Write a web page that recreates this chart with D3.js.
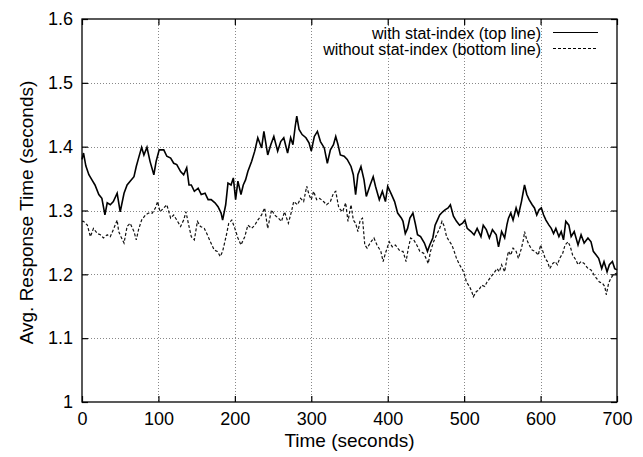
<!DOCTYPE html>
<html>
<head>
<meta charset="utf-8">
<script src="https://cdn.jsdelivr.net/npm/d3@7"></script>
<style>
  html, body { margin: 0; padding: 0; background: #fff; }
  text { font-family: "Liberation Sans", Arial, Helvetica, sans-serif; fill: #000; }
</style>
</head>
<body>
<svg id="chart" width="643" height="457"></svg>
<script>
// ---- data ----
const xTicks = [0, 100, 200, 300, 400, 500, 600, 700];
const yTicks = [1, 1.1, 1.2, 1.3, 1.4, 1.5, 1.6];
const yTickLabels = ["1", "1.1", "1.2", "1.3", "1.4", "1.5", "1.6"];
const seriesNames = ["with stat-index (top line)", "without stat-index (bottom line)"];

const timeTop = [0,2,5,9,13,17,22,26,30,33,37,41,46,50,55,59,63,68,71,74,78,81,85,89,94,97,101,107,111,116,120,124,129,133,137,140,
143,147,152,156,161,165,169,174,178,182,184,188,191,195,198,201,204,208,211,214,217,222,226,230,235,238,243,247,251,256,260,264,269,273,276,279,
281,284,288,293,297,300,304,308,312,317,321,325,329,332,335,338,343,347,352,355,358,361,365,369,372,377,381,384,389,393,397,400,405,409,413,418,
420,423,426,429,433,436,439,443,448,452,455,459,462,465,468,472,475,479,482,486,490,494,498,501,504,509,513,517,522,525,529,533,537,542,545,549,553,
556,558,561,564,568,571,575,577,579,582,585,589,592,595,598,601,604,607,611,614,617,620,624,627,630,633,637,640,644,649,653,657,662,666,669,673,676,680,683,687,690,694,697,700];
const valTop = [1.380,1.390,1.370,1.356,1.348,1.340,1.325,1.319,1.293,1.312,1.309,1.314,1.327,1.298,1.327,1.340,1.346,1.353,1.369,1.382,1.399,1.387,1.399,1.377,1.356,1.377,1.395,1.395,1.385,1.382,1.374,1.372,1.361,1.356,1.367,1.340,
1.340,1.330,1.335,1.325,1.327,1.317,1.317,1.312,1.306,1.296,1.285,1.309,1.343,1.340,1.351,1.317,1.346,1.325,1.340,1.348,1.361,1.377,1.393,1.414,1.398,1.424,1.387,1.403,1.416,1.393,1.408,1.414,1.390,1.414,1.403,1.432,
1.448,1.427,1.419,1.414,1.406,1.393,1.416,1.424,1.408,1.398,1.374,1.395,1.403,1.416,1.403,1.387,1.385,1.380,1.369,1.356,1.325,1.356,1.369,1.348,1.322,1.340,1.353,1.338,1.317,1.330,1.314,1.338,1.325,1.314,1.296,1.288,
1.283,1.264,1.272,1.288,1.296,1.280,1.262,1.259,1.249,1.236,1.246,1.257,1.277,1.285,1.293,1.298,1.301,1.304,1.309,1.291,1.283,1.277,1.280,1.285,1.272,1.267,1.262,1.272,1.259,1.277,1.270,1.257,1.270,1.262,1.243,1.267,1.257,
1.278,1.288,1.296,1.285,1.304,1.293,1.314,1.327,1.340,1.325,1.317,1.309,1.304,1.293,1.301,1.304,1.293,1.285,1.277,1.272,1.264,1.272,1.259,1.267,1.254,1.283,1.277,1.259,1.267,1.246,1.262,1.249,1.257,1.251,1.236,1.230,1.225,1.209,1.220,1.204,1.215,1.220,1.209,1.207];

const timeBottom = [0,2,7,11,15,20,24,28,33,37,41,46,48,51,55,59,63,68,71,74,78,83,87,92,96,99,102,107,111,116,120,124,129,133,136,140,
143,147,151,155,160,164,168,173,177,181,184,189,192,196,200,204,208,213,217,222,226,230,235,239,243,248,252,257,261,265,270,274,277,
282,286,290,294,297,300,303,307,311,316,320,325,329,332,336,341,345,348,352,355,358,361,364,367,370,373,378,382,386,391,394,397,402,406,410,415,
418,420,424,427,430,434,438,442,447,451,453,456,460,464,468,471,474,477,481,484,487,490,494,497,500,503,507,510,512,516,519,523,527,530,535,539,543,546,549,553,
556,558,561,564,568,571,575,578,579,582,585,589,593,597,600,603,606,609,612,616,619,622,625,629,632,636,639,642,646,649,653,657,662,666,670,673,677,681,684,686,689,692,695,700];
const valBottom = [1.283,1.283,1.277,1.259,1.272,1.264,1.262,1.257,1.262,1.259,1.270,1.285,1.267,1.259,1.249,1.275,1.280,1.267,1.254,1.270,1.285,1.293,1.296,1.296,1.304,1.314,1.298,1.304,1.309,1.288,1.293,1.285,1.275,1.285,1.298,1.275,
1.259,1.254,1.283,1.275,1.272,1.262,1.251,1.238,1.236,1.228,1.236,1.262,1.280,1.285,1.272,1.257,1.246,1.259,1.277,1.272,1.277,1.285,1.293,1.304,1.272,1.301,1.293,1.288,1.283,1.298,1.280,1.298,1.314,
1.309,1.319,1.314,1.338,1.325,1.317,1.330,1.317,1.319,1.314,1.309,1.314,1.327,1.330,1.304,1.298,1.312,1.283,1.309,1.285,1.280,1.267,1.285,1.288,1.246,1.241,1.251,1.257,1.246,1.236,1.220,1.233,1.251,1.243,1.246,1.238,
1.236,1.236,1.220,1.241,1.257,1.254,1.246,1.236,1.233,1.223,1.217,1.236,1.251,1.262,1.272,1.283,1.275,1.259,1.251,1.246,1.236,1.225,1.215,1.209,1.202,1.188,1.181,1.173,1.165,1.173,1.175,1.183,1.181,1.188,1.196,1.202,1.209,1.204,1.215,1.204,
1.225,1.236,1.230,1.241,1.236,1.225,1.241,1.257,1.267,1.254,1.246,1.238,1.236,1.230,1.246,1.236,1.225,1.220,1.209,1.217,1.220,1.215,1.225,1.233,1.246,1.251,1.243,1.230,1.223,1.215,1.220,1.217,1.209,1.207,1.199,1.194,1.188,1.186,1.181,1.168,1.186,1.194,1.199,1.202];

// ---- layout ----
const svg = d3.select("#chart");
const mLeft = 82, mRight = 617, mTop = 19, mBottom = 402;
const x = d3.scaleLinear().domain([0, 700]).range([mLeft, mRight]);
const y = d3.scaleLinear().domain([1, 1.6]).range([mBottom, mTop]);
const tickLen = 6;

// grid
const grid = svg.append("g").attr("stroke", "#888").attr("stroke-width", 1).attr("stroke-dasharray", "1,2");
xTicks.slice(1, -1).forEach(t => {
  grid.append("line").attr("x1", Math.round(x(t)) + 0.5).attr("x2", Math.round(x(t)) + 0.5).attr("y1", mTop).attr("y2", mBottom);
});
yTicks.slice(1, -1).forEach(t => {
  grid.append("line").attr("x1", mLeft).attr("x2", mRight).attr("y1", Math.round(y(t)) + 0.5).attr("y2", Math.round(y(t)) + 0.5);
});

// axes (ticks inward on all four sides)
const fontSize = 18;
const axB = d3.axisBottom(x).tickValues(xTicks).tickSize(-tickLen).tickPadding(10).tickFormat(d3.format("d"));
const axT = d3.axisTop(x).tickValues(xTicks).tickSize(-tickLen).tickFormat("");
const axL = d3.axisLeft(y).tickValues(yTicks).tickSize(-tickLen).tickPadding(9).tickFormat((d, i) => yTickLabels[i]);
const axR = d3.axisRight(y).tickValues(yTicks).tickSize(-tickLen).tickFormat("");

function style(g) {
  g.select(".domain").remove();
  g.selectAll(".tick line").attr("stroke", "#000").attr("stroke-width", 1.2);
  g.selectAll(".tick text").attr("font-size", fontSize).attr("font-family", "Liberation Sans, Arial, sans-serif").attr("fill", "#000");
}
svg.append("g").attr("transform", `translate(0,${mBottom})`).call(axB).call(style);
svg.append("g").attr("transform", `translate(0,${mTop})`).call(axT).call(style);
svg.append("g").attr("transform", `translate(${mLeft},0)`).call(axL).call(style);
svg.append("g").attr("transform", `translate(${mRight},0)`).call(axR).call(style);

// frame
svg.append("rect").attr("x", mLeft).attr("y", mTop).attr("width", mRight - mLeft).attr("height", mBottom - mTop)
  .attr("fill", "none").attr("stroke", "#000").attr("stroke-width", 1.3);

// lines
const lineGen = d3.line().x(d => x(d[0])).y(d => y(d[1]));
const topData = timeTop.map((t, i) => [t, valTop[i]]);
const botData = timeBottom.map((t, i) => [t, valBottom[i]]);
svg.append("path").datum(botData).attr("d", lineGen).attr("fill", "none").attr("stroke", "#111")
  .attr("stroke-width", 1.2).attr("stroke-dasharray", "3,2");
svg.append("path").datum(topData).attr("d", lineGen).attr("fill", "none").attr("stroke", "#000")
  .attr("stroke-width", 1.6);

// legend
const legX = 541, legY = [33, 49];
const leg = svg.append("g");
seriesNames.forEach((name, i) => {
  leg.append("text").attr("x", legX).attr("y", legY[i]).attr("dy", "0.35em").attr("text-anchor", "end")
    .attr("font-size", 16).text(name);
  leg.append("line").attr("x1", 553).attr("x2", 598).attr("y1", legY[i] - 0.5).attr("y2", legY[i] - 0.5)
    .attr("stroke", "#000").attr("stroke-width", 1.1).attr("stroke-dasharray", i === 0 ? null : "3,2");
});

// axis titles
svg.append("text").attr("x", (mLeft + mRight) / 2).attr("y", 447).attr("text-anchor", "middle")
  .attr("font-size", 19).text("Time (seconds)");
svg.append("text").attr("transform", `translate(33,${(mTop + mBottom) / 2 + 2}) rotate(-90)`).attr("text-anchor", "middle")
  .attr("font-size", 19).text("Avg. Response Time (seconds)");
</script>
</body>
</html>
